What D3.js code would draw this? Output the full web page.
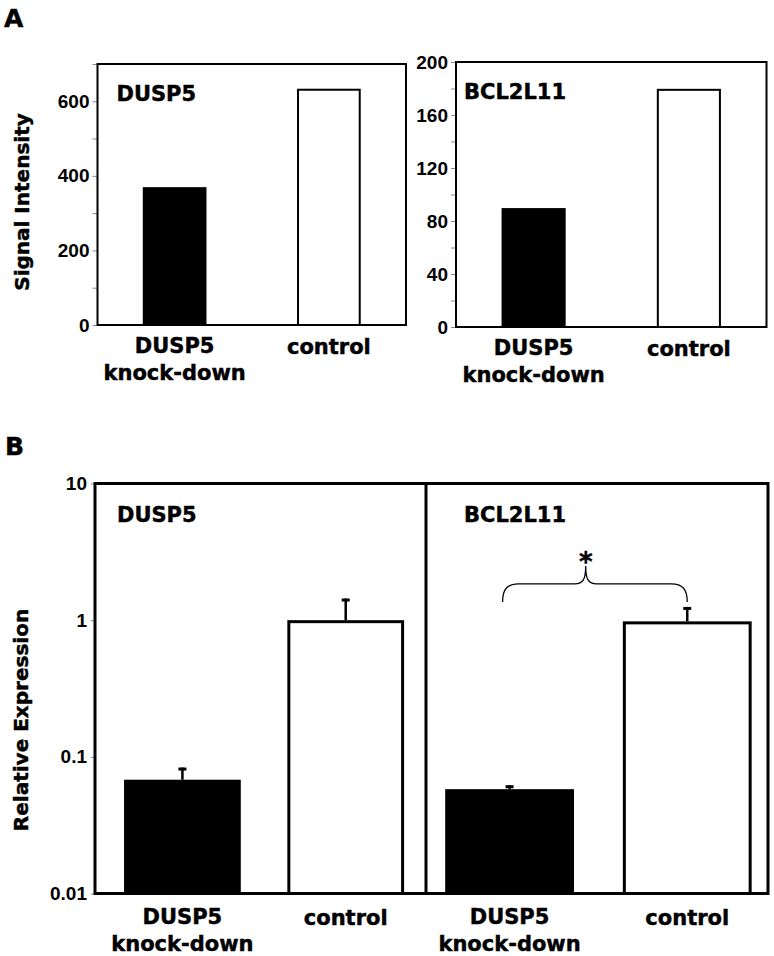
<!DOCTYPE html>
<html><head><meta charset="utf-8">
<script src="https://cdn.jsdelivr.net/npm/d3@7"></script>
<style>body{margin:0;background:#fff;} svg{display:block;}</style>
</head><body><svg id="c" width="774" height="956"></svg>
<script>
// ---------------- data ----------------
const categories = ["DUSP5 knock-down", "control"];
const categoryLines = [["DUSP5", "knock-down"], ["control"]];
const geneNames = ["DUSP5", "BCL2L11"];
const signalDUSP5 = [367, 631];
const signalBCL2L11 = [89, 179];
const ticksA_DUSP5 = [0, 200, 400, 600];
const minorA_DUSP5 = [100, 300, 500, 700];
const ticksA_BCL2L11 = [0, 40, 80, 120, 160, 200];
const minorA_BCL2L11 = [20, 60, 100, 140, 180];
const relExpDUSP5 = [0.068, 1.0];
const relErrDUSP5 = [0.0155, 0.44];
const relExpBCL2L11 = [0.058, 0.98];
const relErrBCL2L11 = [0.004, 0.27];
const ticksB = [0.01, 0.1, 1, 10];
const tickLabelsB = ["0.01", "0.1", "1", "10"];
const yTitleA = "Signal Intensity";
const yTitleB = "Relative Expression";
const panelLetters = ["A", "B"];
const sigMark = "*";

// ---------------- drawing ----------------
const svg = d3.select("#c");
const VF = "'DejaVu Sans', Verdana, sans-serif";
const AF = "'Liberation Sans', Arial, sans-serif";
const fills = ["#000", "#fff"];

function txt(g, x, y, s, size, fam, anchor) {
  const t = g.append("text").attr("x", x).attr("y", y).text(s)
    .attr("font-family", fam).attr("font-size", size).attr("font-weight", "bold")
    .attr("text-anchor", anchor || "start").attr("fill", "#000");
  if (fam === VF) t.attr("stroke", "#000").attr("stroke-width", 0.45);
  return t;
}

txt(svg, 4, 27, panelLetters[0], 25, VF);
txt(svg, 5, 455, panelLetters[1], 25, VF);

function styleAxis(sel, fontSize) {
  sel.select(".domain").remove();
  sel.selectAll(".tick line").attr("stroke", "#888").attr("stroke-width", 1);
  sel.selectAll(".tick text").attr("font-family", AF).attr("font-size", fontSize)
    .attr("font-weight", "bold").attr("fill", "#000");
}

function categoryLabels(g, x, base, lh) {
  categories.forEach((c, i) => {
    const t = g.append("text").attr("text-anchor", "middle")
      .attr("font-family", VF).attr("font-size", 21).attr("font-weight", "bold")
      .attr("stroke", "#000").attr("stroke-width", 0.45);
    categoryLines[i].forEach((line, j) => {
      t.append("tspan").attr("x", x(c) + x.bandwidth() / 2)
        .attr("y", base + j * lh + (categoryLines[i].length === 1 ? 1 : 0)).text(line);
    });
  });
}

function panelA(o) {
  const g = svg.append("g");
  const y = d3.scaleLinear().domain([0, o.max]).range([o.y1, o.y0]);
  const x = d3.scaleBand().domain(categories).range([o.x0, o.x1])
    .paddingInner(0.6).paddingOuter(0.3);
  g.append("g").attr("transform", `translate(${o.x0},0)`)
    .call(d3.axisLeft(y).tickValues(o.minor).tickFormat("").tickSize(5))
    .call(s => styleAxis(s, 19));
  g.append("g").attr("transform", `translate(${o.x0},0)`)
    .call(d3.axisLeft(y).tickValues(o.ticks).tickSize(5).tickPadding(3))
    .call(s => styleAxis(s, 19));
  g.selectAll("rect.bar").data(o.values).join("rect").attr("class", "bar")
    .attr("x", (d, i) => x(categories[i]))
    .attr("width", x.bandwidth())
    .attr("y", d => y(d))
    .attr("height", d => y(0) - y(d))
    .attr("fill", (d, i) => fills[i])
    .attr("stroke", "#000").attr("stroke-width", 2);
  g.append("rect").attr("x", o.x0).attr("y", o.y0)
    .attr("width", o.x1 - o.x0).attr("height", o.y1 - o.y0)
    .attr("fill", "none").attr("stroke", "#000").attr("stroke-width", 2);
  txt(g, o.x0 + o.titleDx, o.y0 + 37, o.title, 21, VF);
  categoryLabels(g, x, o.y1 + 28, 27);
}

panelA({x0: 97.5, x1: 406, y0: 64, y1: 325, max: 700, values: signalDUSP5,
  ticks: ticksA_DUSP5, minor: minorA_DUSP5, title: geneNames[0], titleDx: 19});
panelA({x0: 456, x1: 766.5, y0: 62, y1: 327, max: 200, values: signalBCL2L11,
  ticks: ticksA_BCL2L11, minor: minorA_BCL2L11, title: geneNames[1], titleDx: 8});

txt(svg, 0, 0, yTitleA, 20, VF, "middle")
  .attr("transform", "translate(29,202) rotate(-90)");
txt(svg, 0, 0, yTitleB, 20, VF, "middle")
  .attr("transform", "translate(28,720) rotate(-90)");

// ---- Panel B ----
const B = {x0: 95, xm: 426, x1: 768, y0: 483.5, y1: 893.5};
const yB = d3.scaleLog().domain([0.01, 10]).range([B.y1, B.y0]);
const gB = svg.append("g");
gB.append("g").attr("transform", `translate(${B.x0},0)`)
  .call(d3.axisLeft(yB).tickValues(ticksB).tickFormat((d, i) => tickLabelsB[i]).tickSize(4).tickPadding(4))
  .call(s => styleAxis(s, 19));

const subB = [
  {x0: B.x0, x1: B.xm, vals: relExpDUSP5, errs: relErrDUSP5, title: geneNames[0], titleDx: 22, pin: 0.285, pout: 0.156, align: 0.57},
  {x0: B.xm, x1: B.x1, vals: relExpBCL2L11, errs: relErrBCL2L11, title: geneNames[1], titleDx: 38, pin: 0.275, pout: 0.1, align: 0.54}
];
const xBs = [];
subB.forEach(p => {
  const x = d3.scaleBand().domain(categories).range([p.x0, p.x1])
    .paddingInner(p.pin).paddingOuter(p.pout).align(p.align);
  xBs.push(x);
  const g = gB.append("g");
  g.selectAll("rect.bar").data(p.vals).join("rect").attr("class", "bar")
    .attr("x", (d, i) => x(categories[i]) + 1.5)
    .attr("width", x.bandwidth() - 3)
    .attr("y", d => yB(d) + 1.5)
    .attr("height", d => yB(0.01) - yB(d) - 1.5)
    .attr("fill", (d, i) => fills[i])
    .attr("stroke", "#000").attr("stroke-width", 3);
  p.vals.forEach((v, i) => {
    const cx = x(categories[i]) + x.bandwidth() / 2;
    const top = yB(v + p.errs[i]);
    g.append("line").attr("x1", cx).attr("x2", cx).attr("y1", yB(v)).attr("y2", top)
      .attr("stroke", "#000").attr("stroke-width", 2.5);
    g.append("line").attr("x1", cx - 4).attr("x2", cx + 4).attr("y1", top + 1.5).attr("y2", top + 1.5)
      .attr("stroke", "#000").attr("stroke-width", 3);
  });
  txt(g, p.x0 + p.titleDx, B.y0 + 38.5, p.title, 21, VF);
  categoryLabels(g, x, B.y1 + 30, 27);
});
gB.append("rect").attr("x", B.x0).attr("y", B.y0).attr("width", B.x1 - B.x0).attr("height", B.y1 - B.y0)
  .attr("fill", "none").attr("stroke", "#000").attr("stroke-width", 3);
gB.append("line").attr("x1", B.xm).attr("x2", B.xm).attr("y1", B.y0).attr("y2", B.y1)
  .attr("stroke", "#000").attr("stroke-width", 3);

// significance brace (BCL2L11)
{
  const x = xBs[1];
  const xa = x(categories[0]) + x.bandwidth() / 2 - 7;
  const xb = x(categories[1]) + x.bandwidth() / 2;
  const yE = yB(relExpBCL2L11[1] + relErrBCL2L11[1]) - 5;
  const yM = yE - 18, yP = yE - 36;
  const xp = xa + (xb - xa) * 0.45;
  const d = `M${xa},${yE} C${xa},${yM + 5} ${xa + 5},${yM} ${xa + 16},${yM}` +
    ` L${xp - 11},${yM} C${xp - 3},${yM} ${xp},${yM - 4} ${xp},${yP}` +
    ` C${xp},${yM - 4} ${xp + 3},${yM} ${xp + 11},${yM}` +
    ` L${xb - 16},${yM} C${xb - 5},${yM} ${xb},${yM + 5} ${xb},${yE}`;
  gB.append("path").attr("d", d).attr("fill", "none").attr("stroke", "#000").attr("stroke-width", 1.3);
  txt(gB, xp, yP + 5, sigMark, 26, VF, "middle");
}
</script></body></html>
